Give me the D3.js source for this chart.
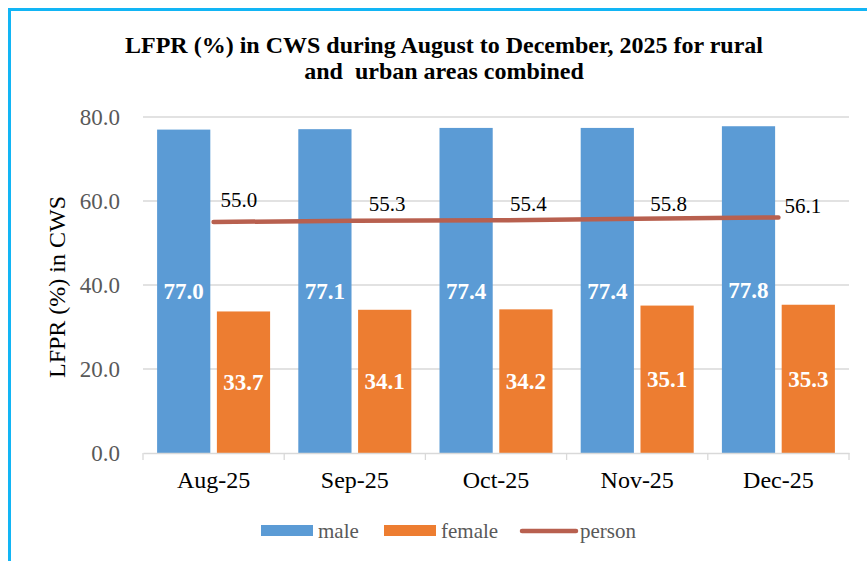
<!DOCTYPE html>
<html>
<head>
<meta charset="utf-8">
<script src="https://cdn.jsdelivr.net/npm/d3@7"></script>
<style>
  body { margin: 0; background: #fff; }
</style>
</head>
<body>
<svg id="chart"></svg>
<script>
const months = ["Aug-25", "Sep-25", "Oct-25", "Nov-25", "Dec-25"];
const maleValues = [77.0, 77.1, 77.4, 77.4, 77.8];
const femaleValues = [33.7, 34.1, 34.2, 35.1, 35.3];
const personValues = [55.0, 55.3, 55.4, 55.8, 56.1];
const yTicks = [0, 20, 40, 60, 80];
const seriesNames = ["male", "female"];

const w = 867;
const h = 561;
const serif = "'Liberation Serif', 'Times New Roman', serif";
const colors = { male: "#5B9BD5", female: "#ED7D31", person: "#B8604F" };

const svg = d3.select("#chart").attr("width", w).attr("height", h);

// outer frame
svg.append("rect")
  .attr("x", 9.5).attr("y", 9.5)
  .attr("width", w + 20).attr("height", h + 20)
  .attr("fill", "white")
  .attr("stroke", "#12B5F5")
  .attr("stroke-width", 3);

// title
const title = svg.append("text")
  .attr("text-anchor", "middle")
  .attr("font-weight", "bold")
  .attr("font-size", 24)
  .attr("fill", "#000")
  .style("font-family", serif)
  .style("white-space", "pre");
title.append("tspan").attr("x", 444).attr("y", 53)
  .text("LFPR (%) in CWS during August to December, 2025 for rural");
title.append("tspan").attr("x", 444).attr("y", 79)
  .text("and  urban areas combined");

// scales
const x0 = d3.scaleBand().domain(months).range([143, 849]).padding(0);
const groupW = 113;
const x1 = d3.scaleBand().domain(seriesNames).range([0, groupW]).paddingInner(0.11);
const y = d3.scaleLinear().domain([0, 80]).range([453, 117]);
const groupOffset = (x0.bandwidth() - groupW) / 2;

// gridlines
svg.append("g")
  .selectAll("line")
  .data(yTicks.filter((d) => d > 0))
  .enter()
  .append("line")
  .attr("x1", 143).attr("x2", 849)
  .attr("y1", (d) => y(d)).attr("y2", (d) => y(d))
  .attr("stroke", "#D9D9D9")
  .attr("stroke-width", 1.3);

// y axis labels
const yAxis = svg.append("g")
  .attr("transform", "translate(143,0)")
  .call(d3.axisLeft(y).tickValues(yTicks).tickFormat(d3.format(".1f")).tickSize(0).tickPadding(23));
yAxis.select(".domain").remove();
yAxis.selectAll("text")
  .attr("font-size", 23)
  .attr("fill", "#595959")
  .style("font-family", serif);

// y axis title
svg.append("text")
  .attr("transform", "translate(65,287) rotate(-90)")
  .attr("text-anchor", "middle")
  .attr("font-size", 24)
  .attr("fill", "#000")
  .style("font-family", serif)
  .text("LFPR (%) in CWS");

// bars
const rows = months.map((m, i) => ({ month: m, male: maleValues[i], female: femaleValues[i] }));
const groups = svg.append("g")
  .selectAll("g")
  .data(rows)
  .enter()
  .append("g")
  .attr("transform", (d) => "translate(" + (x0(d.month) + groupOffset) + ",0)");

groups.selectAll("rect")
  .data((d) => seriesNames.map((k) => ({ key: k, value: d[k] })))
  .enter()
  .append("rect")
  .attr("x", (d) => x1(d.key))
  .attr("y", (d) => y(d.value))
  .attr("width", x1.bandwidth())
  .attr("height", (d) => y(0) - y(d.value))
  .attr("fill", (d) => colors[d.key]);

groups.selectAll("text")
  .data((d) => seriesNames.map((k) => ({ key: k, value: d[k] })))
  .enter()
  .append("text")
  .attr("x", (d) => x1(d.key) + x1.bandwidth() / 2)
  .attr("y", (d) => (y(d.value) + y(0)) / 2)
  .attr("dy", "0.35em")
  .attr("text-anchor", "middle")
  .attr("font-weight", "bold")
  .attr("font-size", 23)
  .attr("fill", "white")
  .style("font-family", serif)
  .text((d) => d.value.toFixed(1));

// x axis
const xAxis = svg.append("g")
  .attr("transform", "translate(0," + y(0) + ")")
  .call(d3.axisBottom(x0).tickSize(0).tickPadding(18));
xAxis.select(".domain").attr("stroke", "#D9D9D9").attr("stroke-width", 1.3);
xAxis.selectAll("text")
  .attr("font-size", 24)
  .attr("fill", "#000")
  .style("font-family", serif);
const boundaries = months.map((m) => x0(m)).concat([x0.range()[1]]);
xAxis.selectAll(".bound")
  .data(boundaries)
  .enter()
  .append("line")
  .attr("x1", (d) => d).attr("x2", (d) => d)
  .attr("y1", 0).attr("y2", 7)
  .attr("stroke", "#D9D9D9")
  .attr("stroke-width", 1.3);

// person line
const cx = (m) => x0(m) + x0.bandwidth() / 2;
const line = d3.line()
  .x((d, i) => cx(months[i]))
  .y((d) => y(d));
svg.append("path")
  .datum(personValues)
  .attr("d", line)
  .attr("fill", "none")
  .attr("stroke", colors.person)
  .attr("stroke-width", 4.5)
  .attr("stroke-linecap", "round");

// person labels (placement nudges as in the source chart)
const labelDx = [7, 14, 14, 13, 6];
const labelDy = [-15, -10, -9, -8, -4];
svg.append("g")
  .selectAll("text")
  .data(personValues)
  .enter()
  .append("text")
  .attr("x", (d, i) => cx(months[i]) + labelDx[i])
  .attr("y", (d, i) => y(d) + labelDy[i])
  .attr("font-size", 21)
  .attr("fill", "#000")
  .style("font-family", serif)
  .text((d) => d.toFixed(1));

// legend
const legend = svg.append("g").attr("transform", "translate(0,530)");
const legendItems = [
  { name: "male", x: 261, type: "rect" },
  { name: "female", x: 384, type: "rect" },
  { name: "person", x: 522, type: "line" }
];
legendItems.forEach((it) => {
  if (it.type === "rect") {
    legend.append("rect")
      .attr("x", it.x).attr("y", -5)
      .attr("width", 52).attr("height", 11)
      .attr("fill", colors[it.name]);
  } else {
    legend.append("line")
      .attr("x1", it.x).attr("x2", it.x + 54)
      .attr("y1", 1).attr("y2", 1)
      .attr("stroke", colors.person)
      .attr("stroke-width", 4.5)
      .attr("stroke-linecap", "round");
  }
  legend.append("text")
    .attr("x", it.x + (it.type === "rect" ? 57 : 58))
    .attr("y", 1)
    .attr("dy", "0.35em")
    .attr("font-size", 21)
    .attr("fill", "#595959")
    .style("font-family", serif)
    .text(it.name);
});
</script>
</body>
</html>
